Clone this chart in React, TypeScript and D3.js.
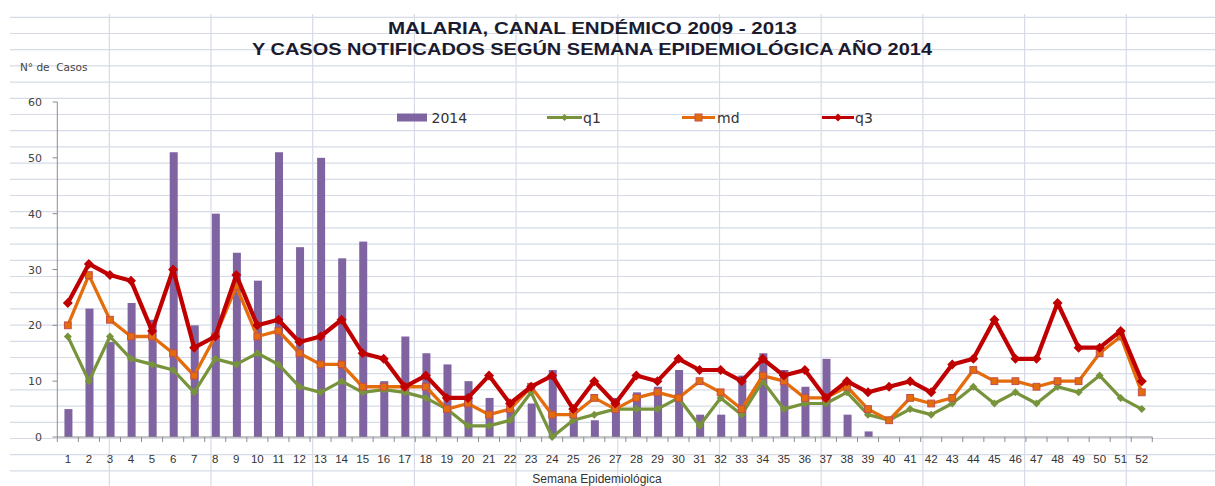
import React from 'react';
import * as d3 from 'd3';

const W = 1215;
const H = 486;

// semanas epidemiologicas
const weeks = d3.range(1, 53).map(String);
const yTicks = [0, 10, 20, 30, 40, 50, 60];

// casos notificados 2014
const cases2014 = [5, 23, 17, 24, 21, 51, 20, 40, 33, 28, 51, 34, 50, 32, 35, 10, 18, 15, 13, 10, 7, 5, 6, 12, 3, 3,
  7, 8, 9, 12, 4, 4, 11, 15, 12, 9, 14, 4, 1, 0, 0, 0, 0, 0, 0, 0, 0, 0, 0, 0, 0, 0];
// canal endemico 2009-2013
const q1 = [18, 10, 18, 14, 13, 12, 8, 14, 13, 15, 13, 9, 8, 10, 8, 8.5, 8, 7, 5, 2, 2, 3, 8, 0, 3, 4,
  5, 5, 5, 7, 2, 7, 4, 10, 5, 6, 6, 8, 4, 3, 5, 4, 6, 9, 6, 8, 6, 9, 8, 11, 7, 5];
const md = [20, 29, 21, 18, 18, 15, 11, 18, 27, 18, 19, 15, 13, 13, 9, 9, 9, 9, 5, 6, 4, 5, 9, 4, 4, 7,
  5, 7, 8, 7, 10, 8, 5, 11, 10, 7, 7, 9, 5, 3, 7, 6, 7, 12, 10, 10, 9, 10, 10, 15, 18, 8];
const q3 = [24, 31, 29, 28, 19, 30, 16, 18, 29, 20, 21, 17, 18, 21, 15, 14, 9, 11, 7, 7, 11, 6, 9, 11, 5, 10,
  6, 11, 10, 14, 12, 12, 10, 14, 11, 12, 7, 10, 8, 9, 10, 8, 13, 14, 21, 14, 14, 24, 16, 16, 19, 10];

const PURPLE = '#8064a2';
const GREEN = '#77933c';
const ORANGE = '#e46c0a';
const RED = '#c00000';
const GRID = '#d6dbe7';

const diamond = (cx: number, cy: number, r: number) =>
  `M${cx},${cy - r}L${cx + r},${cy}L${cx},${cy + r}L${cx - r},${cy}Z`;

export default function App() {
  const x = d3.scaleBand<string>().domain(weeks).range([57.3, 1152.3]).padding(0);
  const y = d3.scaleLinear().domain([0, 60]).range([437, 102]);
  const cx = (i: number) => (x(weeks[i]) as number) + x.bandwidth() / 2;
  const line = d3
    .line<number>()
    .x((_, i) => cx(i))
    .y((d) => y(d));
  const barW = x.bandwidth() * 0.38;

  // spreadsheet cells behind the chart
  const hGrid = d3.range(17.3, H, 16.2);
  const vGrid = d3.range(109.3, W, 101.7);

  return (
    <svg width={W} height={H} style={{ position: 'absolute', left: 0, top: 0, background: '#fff' }}>
      <g stroke={GRID} strokeWidth={1.2}>
        {hGrid.map((gy) => (
          <line key={'h' + gy} x1={10} x2={W} y1={gy} y2={gy} />
        ))}
        {vGrid.map((gx) => (
          <line key={'v' + gx} x1={gx} x2={gx} y1={14} y2={H} />
        ))}
      </g>

      <g fontFamily="Liberation Sans, Arial, sans-serif" fontWeight="bold" fontSize={17} fill="#1b1b30" textAnchor="middle">
        <text x={592.5} y={33.5} textLength={409} lengthAdjust="spacingAndGlyphs">
          MALARIA, CANAL ENDÉMICO 2009 - 2013
        </text>
        <text x={592} y={55.2} textLength={680} lengthAdjust="spacingAndGlyphs">
          Y CASOS NOTIFICADOS SEGÚN SEMANA EPIDEMIOLÓGICA AÑO 2014
        </text>
      </g>

      <text x={20} y={71} fontFamily="DejaVu Sans, sans-serif" fontSize={10.5} fill="#444" xmlSpace="preserve">
        N° de  Casos
      </text>

      {/* y axis */}
      <g fontFamily="DejaVu Sans, sans-serif" fontSize={11} fill="#444">
        <line x1={57.3} x2={57.3} y1={y(60)} y2={y(0)} stroke="#8c8c8c" />
        {yTicks.map((t) => (
          <g key={t}>
            <line x1={52.5} x2={57.3} y1={y(t)} y2={y(t)} stroke="#8c8c8c" />
            <text x={42} y={y(t) + 4} textAnchor="end">
              {t}
            </text>
          </g>
        ))}
      </g>

      {/* bars 2014 */}
      <g fill={PURPLE}>
        {cases2014.map((v, i) =>
          v > 0 ? (
            <rect key={i} x={cx(i) - barW / 2 + 0.6} y={y(v)} width={barW} height={y(0) - y(v)} />
          ) : null
        )}
      </g>

      {/* x axis */}
      <g fontFamily="Liberation Sans, Arial, sans-serif" fontSize={11.5} fill="#333">
        <line x1={57.3} x2={1152.3} y1={y(0)} y2={y(0)} stroke="#8c8c8c" />
        {weeks.map((w, i) => (
          <g key={w}>
            <line x1={x(w)} x2={x(w)} y1={437} y2={442} stroke="#8c8c8c" />
            <text x={cx(i)} y={463} textAnchor="middle">
              {w}
            </text>
          </g>
        ))}
        <line x1={1152.3} x2={1152.3} y1={437} y2={442} stroke="#8c8c8c" />
        <text x={597} y={482.5} textAnchor="middle" fontSize={12} fill="#333">
          Semana Epidemiológica
        </text>
      </g>

      {/* q1 */}
      <path d={line(q1) as string} fill="none" stroke={GREEN} strokeWidth={3.2} strokeLinejoin="round" />
      <g fill={GREEN}>
        {q1.map((v, i) => (
          <path key={i} d={diamond(cx(i), y(v), 4)} />
        ))}
      </g>
      {/* md */}
      <path d={line(md) as string} fill="none" stroke={ORANGE} strokeWidth={3.3} strokeLinejoin="round" />
      <g fill={ORANGE} stroke="#c0504d" strokeWidth={1}>
        {md.map((v, i) => (
          <rect key={i} x={cx(i) - 3.4} y={y(v) - 3.4} width={6.8} height={6.8} />
        ))}
      </g>
      {/* q3 */}
      <path d={line(q3) as string} fill="none" stroke={RED} strokeWidth={4.2} strokeLinejoin="round" />
      <g fill={RED}>
        {q3.map((v, i) => (
          <path key={i} d={diamond(cx(i), y(v), 5)} />
        ))}
      </g>

      {/* legend */}
      <g fontFamily="DejaVu Sans, sans-serif" fontSize={14} fill="#333">
        <rect x={397} y={113.5} width={30} height={8} fill={PURPLE} />
        <text x={431.5} y={122.5}>2014</text>

        <line x1={547} x2={582} y1={117.5} y2={117.5} stroke={GREEN} strokeWidth={3} />
        <path d={diamond(564.5, 117.5, 3.5)} fill={GREEN} />
        <text x={583} y={122.5}>q1</text>

        <line x1={682} x2={715} y1={117.5} y2={117.5} stroke={ORANGE} strokeWidth={3} />
        <rect x={695} y={114} width={7} height={7} fill={ORANGE} stroke="#c0504d" />
        <text x={717} y={122.5}>md</text>

        <line x1={822} x2={854} y1={117.5} y2={117.5} stroke={RED} strokeWidth={3} />
        <path d={diamond(838, 117.5, 4)} fill={RED} />
        <text x={855} y={122.5}>q3</text>
      </g>
    </svg>
  );
}
